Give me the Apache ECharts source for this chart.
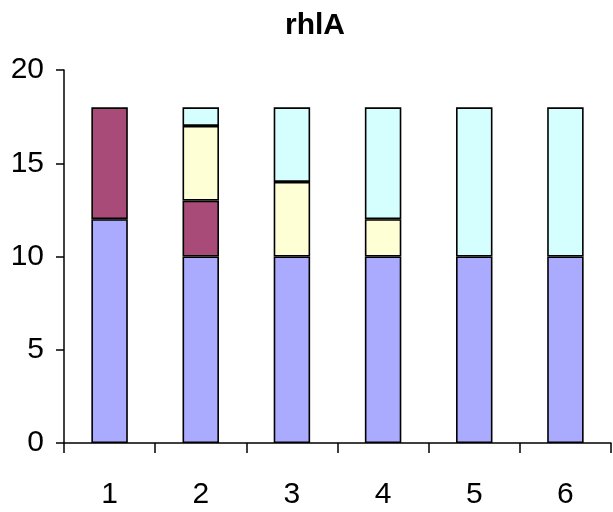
<!DOCTYPE html>
<html><head><meta charset="utf-8">
<script src="https://cdn.jsdelivr.net/npm/echarts@6/dist/echarts.min.js"></script>
<style>html,body{margin:0;padding:0;background:#fff}#c{width:613px;height:512px}</style>
</head><body><div id="c"></div>
<script>
const categories = ['1','2','3','4','5','6'];
const blueVals = [12,10,10,10,10,10];
const maroonVals = [6,3,null,null,null,null];
const yellowVals = [null,4,4,2,null,null];
const cyanVals = [null,1,4,6,8,8];
const yTicks = [0,5,10,15,20];

const chart = echarts.init(document.getElementById('c'), null, {renderer:'canvas'});
const font = 'Liberation Sans, Arial, sans-serif';
function s(name, data, color){
  return {name, type:'bar', stack:'a', data, barWidth:'40%',
    itemStyle:{color, borderColor:'#000', borderWidth:1.6}, silent:true};
}
chart.setOption({
  animation:false,
  title:{text:'rhlA', left:280, top:6, textStyle:{fontFamily:font, fontSize:30, fontWeight:'bold', color:'#000'}},
  grid:{left:64, right:2, top:70, bottom:69, containLabel:false},
  xAxis:{type:'category', data:categories, boundaryGap:true,
    axisLine:{lineStyle:{color:'#000', width:1.5}},
    axisTick:{show:true, length:10, inside:false, lineStyle:{color:'#000', width:1.5}},
    axisLabel:{color:'#000', fontFamily:font, fontSize:30, margin:37},
    splitLine:{show:false}},
  yAxis:{type:'value', min:yTicks[0], max:yTicks[yTicks.length-1], interval:5,
    axisLine:{show:true, lineStyle:{color:'#000', width:1.5}},
    axisTick:{show:true, length:8, lineStyle:{color:'#000', width:1.5}},
    axisLabel:{color:'#000', fontFamily:font, fontSize:30, margin:20},
    splitLine:{show:false}},
  series:[s('A',blueVals,'#aaaaff'), s('B',maroonVals,'#a84b78'), s('C',yellowVals,'#ffffd5'), s('D',cyanVals,'#d5ffff')]
});
</script></body></html>
